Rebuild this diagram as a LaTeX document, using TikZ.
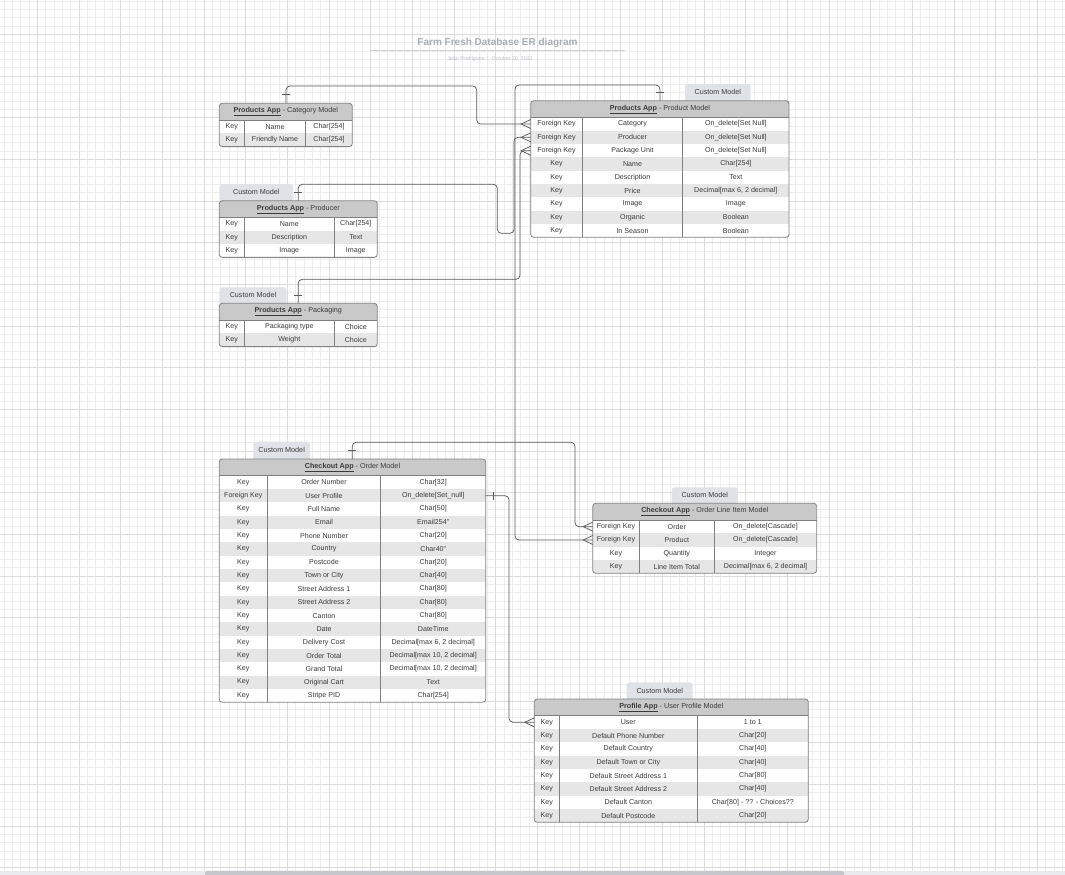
\documentclass[tikz,border=0pt]{standalone}
\usepackage{fontspec}
\setmainfont{Liberation Sans}
\usetikzlibrary{calc}
\definecolor{gridminc}{HTML}{EEEEEE}
\definecolor{gridmajc}{HTML}{DCDCDC}
\definecolor{headc}{HTML}{C9C9C9}
\definecolor{rowc}{HTML}{E6E6E6}
\definecolor{boxc}{HTML}{808080}
\definecolor{txtc}{HTML}{3A3A3A}
\definecolor{connc}{HTML}{5A5A5A}
\definecolor{tabc}{HTML}{DFE2E7}
\definecolor{titlec}{HTML}{A8ADB6}
\definecolor{subc}{HTML}{B9BDC4}
\definecolor{stripc}{HTML}{E9EAEC}
\definecolor{barc}{HTML}{C4C7CC}
\tikzset{
  gridmin/.style={draw=gridminc, line width=0.6pt},
  gridmaj/.style={draw=gridmajc, line width=0.8pt},
  headfill/.style={fill=headc},
  rowfill/.style={fill=rowc},
  boxline/.style={draw=boxc, line width=0.8pt},
  divline/.style={draw=boxc, line width=0.7pt},
  celltext/.style={text=txtc, font=\fontsize{7.1}{8}\selectfont, inner sep=0pt},
  headtext/.style={text=txtc, font=\fontsize{7.2}{8}\selectfont, inner sep=0pt},
  tabtext/.style={text=txtc, font=\fontsize{7.2}{8}\selectfont, inner sep=0pt},
  tabfill/.style={fill=tabc},
  conn/.style={draw=connc, line width=0.75pt, rounded corners=4pt},
  crowline/.style={draw=connc, line width=0.75pt},
  titletext/.style={text=titlec, font=\fontsize{10}{12}\selectfont\bfseries, inner sep=0pt},
  subtext/.style={text=subc, font=\fontsize{5.3}{6}\selectfont, inner sep=0pt},
}
% #1 name #2 left #3 top #4 right #5 c1 #6 c2 #7 nrows #8 header #9 rows
\newcommand\ertable[9]{%
  \pgfmathsetmacro\erhb{#3+16.67}%
  \pgfmathsetmacro\ertb{#3+16.67+#7*13.33}%
  \begin{scope}
    \clip[rounded corners=3pt] (#2,#3) rectangle (#4,\ertb);
    \fill[white] (#2,#3) rectangle (#4,\ertb);
    \fill[headfill] (#2,#3) rectangle (#4,\erhb);
    \foreach \i in {1,...,#7} {%
      \ifodd\i\relax\else
        \fill[rowfill] (#2,{\erhb+(\i-1)*13.33}) rectangle (#4,{\erhb+\i*13.33});
      \fi
    }
  \end{scope}
  \draw[divline] (#2,\erhb) -- (#4,\erhb);
  \draw[divline] (#5,\erhb) -- (#5,\ertb);
  \draw[divline] (#6,\erhb) -- (#6,\ertb);
  \draw[boxline, rounded corners=3pt] (#2,#3) rectangle (#4,\ertb);
  \node[headtext] (#1-head) at ({(#2+#4)/2},{#3+8.6}) {#8};
  \foreach [count=\k] \a/\b/\c in {#9} {%
    \node[celltext] (#1-r\k-a) at ({(#2+#5)/2},{\erhb+(\k-0.5)*13.33}) {\a};
    \node[celltext] (#1-r\k-b) at ({(#5+#6)/2},{\erhb+(\k-0.5)*13.33}) {\b};
    \node[celltext] (#1-r\k-c) at ({(#6+#4)/2},{\erhb+(\k-0.5)*13.33}) {\c};
    \coordinate (#1-r\k-w) at (#2,{\erhb+(\k-0.5)*13.33});
    \coordinate (#1-r\k-e) at (#4,{\erhb+(\k-0.5)*13.33});
  }%
}
% #1 name #2 x1 #3 y1 #4 x2 #5 y2
\newcommand\ertab[5]{%
  \fill[tabfill, rounded corners=3pt] (#2,#3) rectangle (#4,{#5+4});
  \node[tabtext] (#1) at ({(#2+#4)/2},{(#3+#5)/2}) {Custom Model};
}
\newcommand\crowft[1]{%
  \draw[crowline] ($(#1)+(0,-4.5)$) -- ($(#1)+(-9.5,0)$) -- ($(#1)+(0,4.5)$);
}
\begin{document}
\begin{tikzpicture}[x=1pt,y=-1pt]
\useasboundingbox (0,0) rectangle (1065,875);
\fill[white] (0,0) rectangle (1065,875);
% grid
\foreach \i in {0,...,127} \draw[gridmin] ({3.9+8.3333*\i},0) -- ({3.9+8.3333*\i},875);
\foreach \i in {0,...,104} \draw[gridmin] (0,{1.0+8.3333*\i}) -- (1065,{1.0+8.3333*\i});
\foreach \i in {0,...,25} \draw[gridmaj] ({37.3+41.667*\i},0) -- ({37.3+41.667*\i},875);
\foreach \i in {0,...,20} \draw[gridmaj] (0,{34.3+41.667*\i}) -- (1065,{34.3+41.667*\i});
% bottom strip
\fill[stripc] (0,870.5) rectangle (1065,875);
\fill[barc, rounded corners=1.5pt] (205,870.8) rectangle (844,877);

% title
\node[titletext] (title) at (497.5,43) {Farm Fresh Database ER diagram};
\coordinate (tl) at (370,50.7);
\coordinate (tr) at (625,50.7);
\draw[draw=titlec!60, line width=1pt] (tl) -- (tr);
\node[subtext] (subtitle) at (490,59.3) {João Rodrigues \ | \ October 20, 2022};

% tabs
\ertab{prd-tab}{219.3}{184}{293.3}{200.7}
\ertab{pkg-tab}{219.3}{287.3}{286.7}{303.3}
\ertab{prod-tab}{685}{84}{750.7}{100.7}
\ertab{ord-tab}{253.3}{441.7}{310}{459}
\ertab{oli-tab}{671.7}{487.3}{737.7}{503.3}
\ertab{prof-tab}{626.7}{682.3}{692.7}{699}

% tables
\ertable{cat}{219.3}{103.3}{352.3}{244.3}{305.7}{2}{\underline{\textbf{Products App}} - Category Model}
  {Key/Name/{Char[254]}, Key/Friendly Name/{Char[254]}}
\ertable{prd}{219.3}{200.7}{377.3}{244.3}{334.3}{3}{\underline{\textbf{Products App}} - Producer}
  {Key/Name/{Char[254]}, Key/Description/Text, Key/Image/Image}
\ertable{pkg}{219.3}{303.3}{377.3}{244.3}{334.3}{2}{\underline{\textbf{Products App}} - Packaging}
  {Key/Packaging type/Choice, Key/Weight/Choice}
\ertable{prod}{530.7}{100.7}{789}{582.3}{682.7}{9}{\underline{\textbf{Products App}} - Product Model}
  {Foreign Key/Category/{On\_delete[Set Null]},
   Foreign Key/Producer/{On\_delete[Set Null]},
   Foreign Key/Package Unit/{On\_delete[Set Null]},
   Key/Name/{Char[254]},
   Key/Description/Text,
   Key/Price/{Decimal[max 6, 2 decimal]},
   Key/Image/Image,
   Key/Organic/Boolean,
   Key/In Season/Boolean}
\ertable{ord}{219.3}{459}{485.7}{267.3}{380.7}{17}{\underline{\textbf{Checkout App}} - Order Model}
  {Key/Order Number/{Char[32]},
   Foreign Key/User Profile/{On\_delete[Set\_null]},
   Key/Full Name/{Char[50]},
   Key/Email/{Email254"},
   Key/Phone Number/{Char[20]},
   Key/Country/{Char40"},
   Key/Postcode/{Char[20]},
   Key/Town or City/{Char[40]},
   Key/Street Address 1/{Char[80]},
   Key/Street Address 2/{Char[80]},
   Key/Canton/{Char[80]},
   Key/Date/DateTime,
   Key/Delivery Cost/{Decimal[max 6, 2 decimal]},
   Key/Order Total/{Decimal[max 10, 2 decimal]},
   Key/Grand Total/{Decimal[max 10, 2 decimal]},
   Key/Original Cart/Text,
   Key/Stripe PID/{Char[254]}}
\ertable{oli}{592.7}{503.3}{816.7}{639.3}{714.3}{4}{\underline{\textbf{Checkout App}} - Order Line Item Model}
  {Foreign Key/Order/{On\_delete[Cascade]},
   Foreign Key/Product/{On\_delete[Cascade]},
   Key/Quantity/Integer,
   Key/Line Item Total/{Decimal[max 6, 2 decimal]}}
\ertable{prof}{534.3}{699}{808.3}{559.3}{697.3}{8}{\underline{\textbf{Profile App}} - User Profile Model}
  {Key/User/1 to 1,
   Key/Default Phone Number/{Char[20]},
   Key/Default Country/{Char[40]},
   Key/Default Town or City/{Char[40]},
   Key/Default Street Address 1/{Char[80]},
   Key/Default Street Address 2/{Char[40]},
   Key/Default Canton/{Char[80] - ?? - Choices??},
   Key/Default Postcode/{Char[20]}}

% connection points
\coordinate (cat-top) at (286,103.3);
\coordinate (prd-top) at (298.3,200.7);
\coordinate (pkg-top) at (298.3,303.3);
\coordinate (prod-top) at (660,100.7);
\coordinate (ord-top) at (352.3,459);

% connectors
\draw[conn] (cat-top) -- (286,86) -- (476.7,86) -- (476.7,124) -- (prod-r1-w);
\draw[conn] (prd-top) -- (298.3,184.3) -- (497.3,184.3) -- (497.3,233.3) -- (514,233.3) -- (514,137.3) -- (prod-r2-w);
\draw[conn] (pkg-top) -- (298.3,279.3) -- (520,279.3) -- (520,150.7) -- (prod-r3-w);
\draw[conn] (prod-top) -- (660,85) -- (515,85) -- (515,540) -- (oli-r2-w);
\draw[conn] (ord-top) -- (352.3,442.3) -- (575,442.3) -- (575,526.7) -- (oli-r1-w);
\draw[conn] (ord-r2-e) -- (509,495.7) -- (509,722.3) -- (prof-r1-w);

% one marks
\draw[crowline] (282,94) -- (290,94);
\draw[crowline] (294.3,192.3) -- (302.3,192.3);
\draw[crowline] (294.3,295) -- (302.3,295);
\draw[crowline] (656,92.3) -- (664,92.3);
\draw[crowline] (348.3,450) -- (356.3,450);
\draw[crowline] (493.3,491.7) -- (493.3,499.7);

% crow's feet
\crowft{prod-r1-w}
\crowft{prod-r2-w}
\crowft{prod-r3-w}
\crowft{oli-r1-w}
\crowft{oli-r2-w}
\crowft{prof-r1-w}
\end{tikzpicture}
\end{document}
